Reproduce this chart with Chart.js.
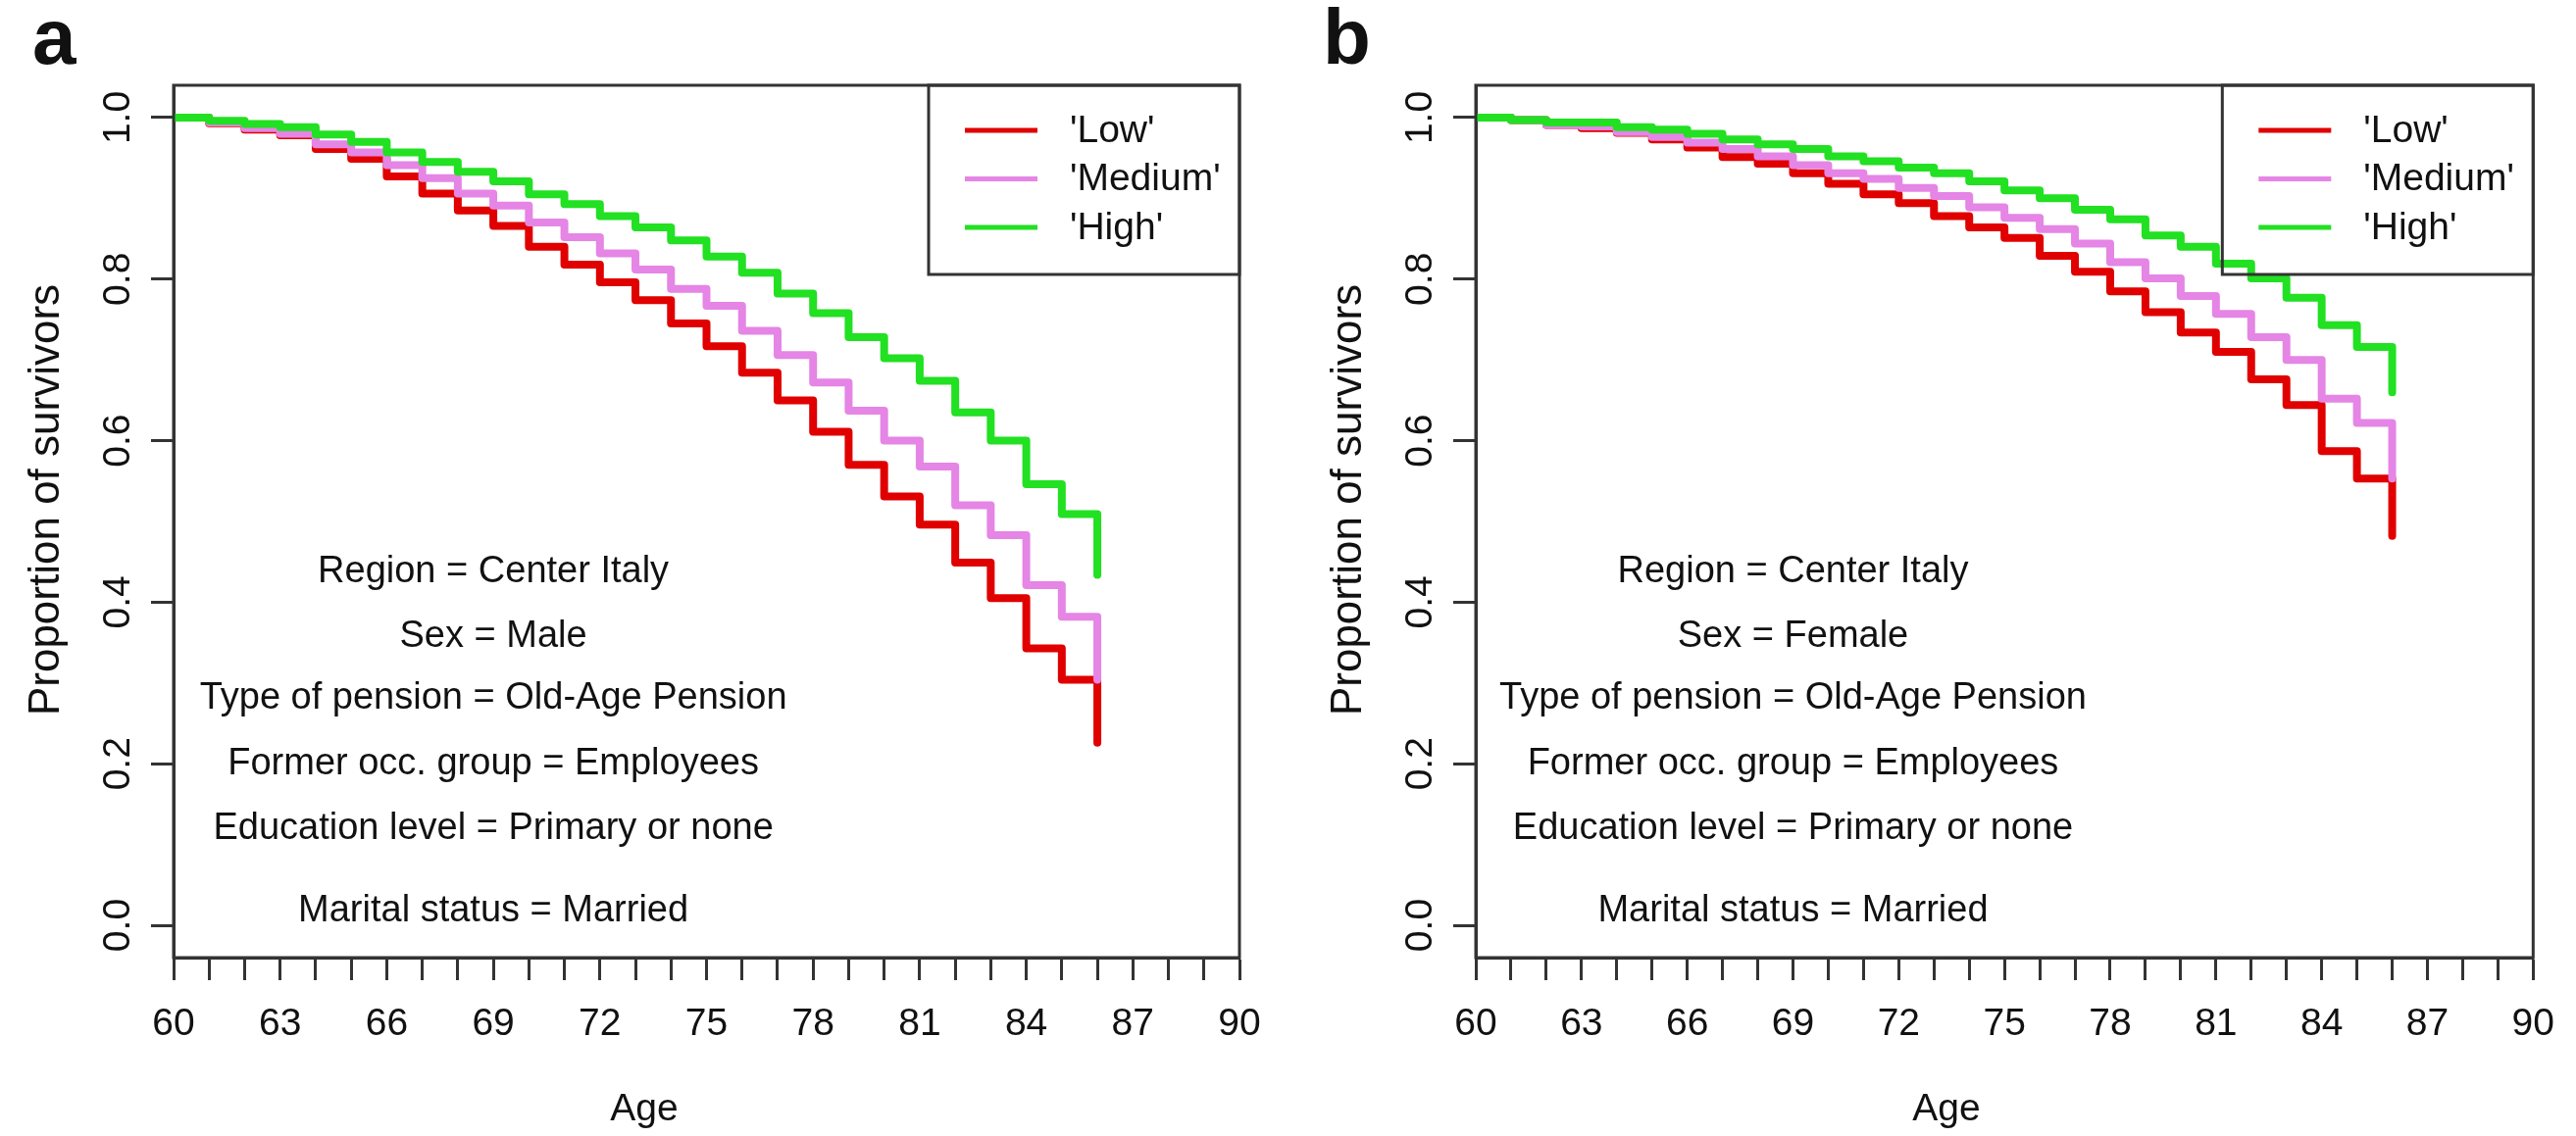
<!DOCTYPE html>
<html>
<head>
<meta charset="utf-8">
<title>Survival curves by income level</title>
<script src="https://cdn.jsdelivr.net/npm/chart.js@4.4.1/dist/chart.umd.min.js"></script>
<style>
  html, body { margin: 0; padding: 0; background: #fff; }
  body { width: 2627px; height: 1159px; position: relative; overflow: hidden; }
  canvas { position: absolute; top: 0; }
</style>
</head>
<body>
<canvas id="panelA" width="1313" height="1159" style="left:0px"></canvas>
<canvas id="panelB" width="1314" height="1159" style="left:1313px"></canvas>
<script>
// ages where the step curves change level (last one is the final drop)
const AGES = [60, 61, 62, 63, 64, 65, 66, 67, 68, 69, 70, 71, 72, 73, 74, 75,
              76, 77, 78, 79, 80, 81, 82, 83, 84, 85, 86];

// panel a: men
const LOW_MALE = [1.0, 0.993, 0.985, 0.978, 0.961, 0.949, 0.927, 0.906, 0.885, 0.866, 0.840, 0.818, 0.796, 0.774,
                  0.745, 0.717, 0.684, 0.650, 0.611, 0.570, 0.531, 0.496, 0.449, 0.405, 0.343, 0.304, 0.226];
const MEDIUM_MALE = [1.0, 0.994, 0.987, 0.980, 0.967, 0.957, 0.941, 0.925, 0.906, 0.891, 0.870, 0.852, 0.832, 0.812,
                     0.788, 0.767, 0.736, 0.706, 0.672, 0.637, 0.600, 0.568, 0.520, 0.483, 0.421, 0.382, 0.304];
const HIGH_MALE = [1.0, 0.996, 0.992, 0.988, 0.979, 0.970, 0.957, 0.945, 0.933, 0.921, 0.905, 0.893, 0.878, 0.864,
                   0.848, 0.828, 0.808, 0.782, 0.758, 0.728, 0.702, 0.674, 0.635, 0.600, 0.546, 0.509, 0.434];

// panel b: women
const LOW_FEMALE = [1.0, 0.997, 0.991, 0.987, 0.981, 0.973, 0.963, 0.951, 0.943, 0.931, 0.918, 0.905, 0.894, 0.878,
                    0.864, 0.851, 0.829, 0.809, 0.785, 0.759, 0.734, 0.710, 0.676, 0.644, 0.587, 0.553, 0.482];
const MEDIUM_FEMALE = [1.0, 0.997, 0.991, 0.989, 0.982, 0.976, 0.969, 0.961, 0.952, 0.941, 0.931, 0.924, 0.913, 0.903,
                       0.889, 0.876, 0.862, 0.844, 0.821, 0.801, 0.779, 0.757, 0.728, 0.700, 0.652, 0.622, 0.553];
const HIGH_FEMALE = [1.0, 0.997, 0.994, 0.994, 0.988, 0.985, 0.980, 0.973, 0.967, 0.961, 0.952, 0.946, 0.938, 0.931,
                     0.921, 0.910, 0.900, 0.886, 0.874, 0.854, 0.840, 0.819, 0.801, 0.777, 0.743, 0.716, 0.660];

const SERIES_NAMES = ["'Low'", "'Medium'", "'High'"];
const SERIES_COLORS = ["#e00000", "#e585e5", "#22e022"];

const X_TICKS = [60, 61, 62, 63, 64, 65, 66, 67, 68, 69, 70, 71, 72, 73, 74, 75,
                 76, 77, 78, 79, 80, 81, 82, 83, 84, 85, 86, 87, 88, 89, 90];
const X_LABELS = [60, 63, 66, 69, 72, 75, 78, 81, 84, 87, 90];
const Y_TICKS = [0, 0.2, 0.4, 0.6, 0.8, 1.0];

const NOTES_MALE = ["Region = Center Italy", "Sex = Male", "Type of pension = Old-Age Pension",
                    "Former occ. group = Employees", "Education level = Primary or none", "Marital status = Married"];
const NOTES_FEMALE = ["Region = Center Italy", "Sex = Female", "Type of pension = Old-Age Pension",
                      "Former occ. group = Employees", "Education level = Primary or none", "Marital status = Married"];
const NOTE_X = 69;
const NOTE_Y = [0.438, 0.357, 0.281, 0.200, 0.119, 0.018];

const FONT = '"Liberation Sans", Arial, sans-serif';
const INK = "#111";
const AXIS = "#333";

// box, rotated y labels, notes, legend and titles, drawn like base R graphics
const rFramePlugin = {
    id: "rFrame",
    afterDatasetsDraw(chart, args, opts) {
        const ctx = chart.ctx;
        const area = chart.chartArea;
        const xs = chart.scales.x;
        const ys = chart.scales.y;
        ctx.save();

        ctx.strokeStyle = AXIS;
        ctx.lineWidth = 3;
        ctx.strokeRect(area.left, area.top, area.right - area.left, area.bottom - area.top);

        ctx.fillStyle = INK;
        ctx.font = "39px " + FONT;
        ctx.textAlign = "center";
        ctx.textBaseline = "middle";
        ys.ticks.forEach((t) => {
            ctx.save();
            ctx.translate(area.left - 56, ys.getPixelForValue(t.value));
            ctx.rotate(-Math.PI / 2);
            ctx.fillText(t.value.toFixed(1), 0, 0);
            ctx.restore();
        });

        ctx.font = "38px " + FONT;
        opts.notes.forEach((line, i) => {
            ctx.fillText(line, xs.getPixelForValue(NOTE_X), ys.getPixelForValue(NOTE_Y[i]));
        });

        // legend box in the top right corner
        const lw = 317, lh = 193;
        const lx = area.right - lw, ly = area.top;
        ctx.lineWidth = 3;
        ctx.strokeRect(lx, ly, lw, lh);
        ctx.font = "39px " + FONT;
        ctx.textAlign = "left";
        chart.data.datasets
            .slice()
            .sort((a, b) => b.order - a.order)
            .forEach((ds, i) => {
                const y = ly + 46 + i * 49.5;
                ctx.strokeStyle = ds.borderColor;
                ctx.lineWidth = 5;
                ctx.beginPath();
                ctx.moveTo(lx + 37, y);
                ctx.lineTo(lx + 111, y);
                ctx.stroke();
                ctx.fillStyle = INK;
                ctx.fillText(ds.label, lx + 144, y + 1);
            });

        ctx.textAlign = "center";
        ctx.fillText("Age", area.left + 480, 1132);
        ctx.save();
        ctx.font = "44px " + FONT;
        ctx.translate(area.left - 129, (area.top + area.bottom) / 2 - 22);
        ctx.rotate(-Math.PI / 2);
        ctx.fillText("Proportion of survivors", 0, 0);
        ctx.restore();

        ctx.font = "bold 80px " + FONT;
        ctx.textAlign = "left";
        ctx.textBaseline = "alphabetic";
        ctx.fillText(opts.tag, opts.tagX, 65);

        ctx.restore();
    },
};

function makePanel(canvasId, low, medium, high, notes, tag, tagX, plotLeft, padRight) {
    const series = [low, medium, high];
    const datasets = series.map((values, i) => ({
        label: SERIES_NAMES[i],
        data: AGES.map((age, k) => ({ x: age, y: values[k] })),
        borderColor: SERIES_COLORS[i],
        borderWidth: 8,
        stepped: "before",
        pointRadius: 0,
        fill: false,
        borderCapStyle: "round",
        borderJoinStyle: "round",
        order: 3 - i,
    }));

    return new Chart(document.getElementById(canvasId), {
        type: "line",
        data: { datasets: datasets },
        options: {
            responsive: false,
            animation: false,
            layout: { padding: { top: 87, right: padRight, bottom: 0, left: 0 } },
            scales: {
                x: {
                    type: "linear",
                    min: 60,
                    max: 90,
                    afterBuildTicks: (s) => { s.ticks = X_TICKS.map((v) => ({ value: v })); },
                    afterFit: (s) => { s.height = 182; },
                    ticks: {
                        autoSkip: false,
                        maxRotation: 0,
                        minRotation: 0,
                        padding: 22,
                        color: INK,
                        font: { family: FONT, size: 39 },
                        callback: (v) => (X_LABELS.includes(v) ? String(v) : ""),
                    },
                    grid: { drawOnChartArea: false, drawTicks: true, tickLength: 23, tickWidth: 3, tickColor: AXIS, color: AXIS },
                    border: { display: true, width: 3, color: AXIS },
                },
                y: {
                    type: "linear",
                    min: -0.04,
                    max: 1.04,
                    afterBuildTicks: (s) => { s.ticks = Y_TICKS.map((v) => ({ value: v })); },
                    afterFit: (s) => { s.width = plotLeft; },
                    ticks: { display: false },
                    grid: { drawOnChartArea: false, drawTicks: true, tickLength: 23, tickWidth: 3, tickColor: AXIS, color: AXIS },
                    border: { display: true, width: 3, color: AXIS },
                },
            },
            plugins: {
                legend: { display: false },
                tooltip: { enabled: false },
                rFrame: { notes: notes, tag: tag, tagX: tagX },
            },
        },
        plugins: [rFramePlugin],
    });
}

makePanel("panelA", LOW_MALE, MEDIUM_MALE, HIGH_MALE, NOTES_MALE, "a", 33, 177, 49);
makePanel("panelB", LOW_FEMALE, MEDIUM_FEMALE, HIGH_FEMALE, NOTES_FEMALE, "b", 36, 192, 33);
</script>
</body>
</html>
